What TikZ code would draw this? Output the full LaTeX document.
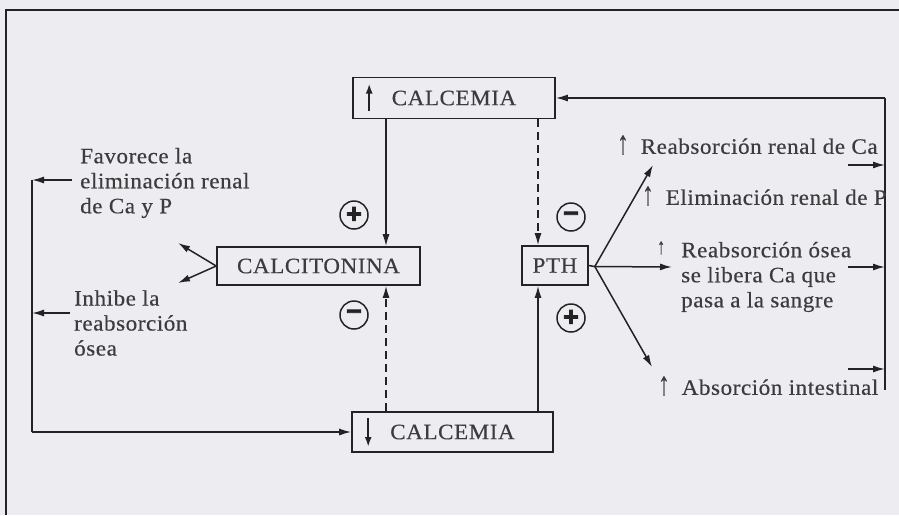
\documentclass[tikz,border=0pt]{standalone}
\usepackage{fontspec}
\setmainfont{Liberation Serif}[FakeStretch=1.05,LetterSpace=2.5,FakeBold=0.4]
\newfontfamily\symfont{Liberation Sans}[FakeBold=3]
\usetikzlibrary{arrows.meta,calc}
\definecolor{bg}{RGB}{237,237,241}
\definecolor{ink}{RGB}{35,35,35}
\definecolor{txt}{RGB}{60,60,60}
\newcommand{\upar}{\scalebox{1}[1.5]{↑}\hspace{12pt}}
\begin{document}
\begin{tikzpicture}[x=1pt,y=-1pt,
 every node/.style={text=txt,font=\fontsize{22}{25}\selectfont},
 box/.style={draw=ink,line width=1.6pt,inner sep=0pt},
 arr/.style={draw=ink,line width=1.5pt,-{Latex[length=12pt,width=7pt]}},
 ln/.style={draw=ink,line width=1.5pt},
 dsh/.style={arr,dash pattern=on 8pt off 5pt},
 inarr/.style={draw=ink,line width=2.2pt,-{Latex[length=10pt,width=7pt]}},
 sign/.style={circle,draw=ink,line width=1.5pt,minimum size=28pt,inner sep=0pt,text=ink,font=\symfont\bfseries\fontsize{27}{27}\selectfont},
 lbl/.style={anchor=west,inner sep=0pt,align=left},
]
\fill[bg] (0,0) rectangle (899,515);
\useasboundingbox (0,0) rectangle (899,515);
\draw[ink,line width=1.6pt] (6,515) -- (6,10) -- (899,10);

% boxes
\node[box,minimum width=202pt,minimum height=41pt] (calTop) at (454,98) {CALCEMIA};
\node[box,minimum width=203pt,minimum height=38pt] (calc) at (318.5,266) {CALCITONINA};
\node[box,minimum width=66pt,minimum height=39pt] (pth) at (555,265.5) {PTH};
\node[box,minimum width=201pt,minimum height=40pt] (calBot) at (452.5,432) {CALCEMIA};

\draw[inarr] ($(calTop.west)+(17,12.5)$) -- ($(calTop.west)+(17,-14.5)$);
\draw[inarr] ($(calBot.west)+(17,-14)$) -- ($(calBot.west)+(17,15)$);

% verticals
\coordinate (xa) at (386,0);
\coordinate (xb) at (538,0);
\draw[arr] (calTop.south -| xa) -- (calc.north -| xa);
\draw[dsh] (calTop.south -| xb) -- (pth.north -| xb);
\draw[dsh] (calBot.north -| xa) -- (calc.south -| xa);
\draw[arr] (calBot.north -| xb) -- (pth.south -| xb);

% signs
\node[sign] (s1) at (354,215) {+};
\node[sign] (s2) at (354,315) {−};
\node[sign] (s3) at (571,217) {−};
\node[sign] (s4) at (571,318) {+};

% PTH fan
\coordinate (apx) at ($(pth.east)+(6,1)$);
\coordinate (t1) at (653,165);
\coordinate (t2) at (672,267);
\coordinate (t3) at (652,367);
\draw[arr] (pth.east) -- (apx) -- (t1);
\draw[arr] (apx) -- (t2);
\draw[arr] (apx) -- (t3);

% calcitonina fan
\coordinate (c1) at (178,243);
\coordinate (c2) at (178,283);
\draw[arr] (calc.west) -- (c1);
\draw[arr] (calc.west) -- (c2);

% right loop
\coordinate (rT) at (885,98);
\coordinate (rB) at (885,390);
\draw[ln] (rB) -- (rT);
\draw[arr] (rT) -- (calTop.east);
\coordinate (a1) at (848,165);
\coordinate (a2) at (848,267);
\coordinate (a3) at (848,369);
\draw[arr] (a1) -- (a1 -| rT);
\draw[arr] (a2) -- (a2 -| rT);
\draw[arr] (a3) -- (a3 -| rT);

% left loop
\coordinate (lT) at (32,180);
\coordinate (lB) at (32,432);
\draw[ln] (lT) -- (lB);
\draw[arr] (lB) -- (calBot.west);
\coordinate (f1) at (72,180);
\coordinate (f2) at (70,313);
\draw[arr] (f1) -- (lT);
\draw[arr] (f2) -- (f2 -| lT);

% texts
\node[lbl] (fav) at (80,183) {Favorece la\\eliminación renal\\de Ca y P};
\node[lbl] (inh) at (74,323) {Inhibe la\\reabsorción\\ósea};
\node[lbl] (rrc) at (617,145) {\upar Reabsorción renal de Ca};
\node[lbl] (erp) at (642,196) {\upar Eliminación renal de P};
\node[lbl,font=\fontsize{15}{15}\selectfont] (rosup) at (657,248) {\scalebox{1}[1.5]{↑}};
\node[lbl] (ros) at (681,277) {Reabsorción ósea\\se libera Ca que\\pasa a la sangre};
\node[lbl] (ain) at (658,386) {\upar Absorción intestinal};
\end{tikzpicture}
\end{document}
